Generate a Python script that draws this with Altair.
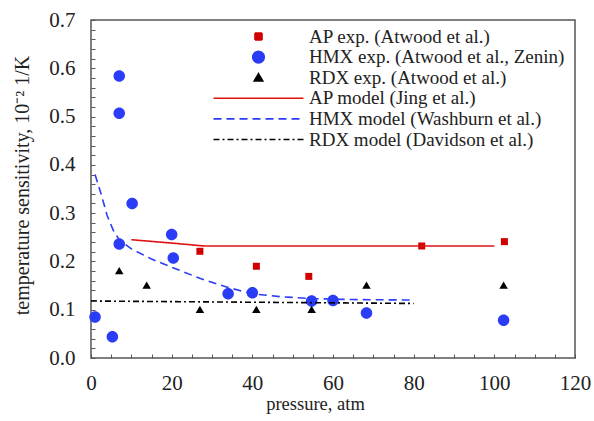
import altair as alt
import pandas as pd

# ---------------- data ----------------
series_names = [
    "AP exp. (Atwood et al.)",
    "HMX exp. (Atwood et al., Zenin)",
    "RDX exp. (Atwood et al.)",
    "AP model (Jing et al.)",
    "HMX model (Washburn et al.)",
    "RDX model (Davidson et al.)",
]

ap_exp_p = [27, 41, 54, 82, 102.5]
ap_exp_s = [0.221, 0.190, 0.169, 0.232, 0.241]

hmx_exp_p = [1, 5.3, 7, 7, 7, 10.2, 20, 20.4, 34, 40, 54.7, 60, 68.3, 102.3]
hmx_exp_s = [0.085, 0.044, 0.584, 0.507, 0.236, 0.320, 0.256, 0.207,
             0.133, 0.135, 0.118, 0.119, 0.093, 0.078]

rdx_exp_p = [7, 13.8, 27, 41, 54.7, 68.3, 102.3]
rdx_exp_s = [0.180, 0.150, 0.100, 0.100, 0.100, 0.150, 0.150]

ap_mod_p = [10, 20, 28, 100]
ap_mod_s = [0.245, 0.238, 0.232, 0.232]

hmx_mod_p = [1, 2.5, 4, 5.5, 7, 10, 15, 20, 27, 34, 40, 47, 55, 65, 80]
hmx_mod_s = [0.380, 0.340, 0.295, 0.265, 0.245, 0.226, 0.205, 0.188,
             0.165, 0.146, 0.133, 0.127, 0.123, 0.121, 0.120]

rdx_mod_p = [0, 80]
rdx_mod_s = [0.118, 0.113]

x_label_values = [0, 20, 40, 60, 80, 100, 120]
y_label_values = [0.0, 0.1, 0.2, 0.3, 0.4, 0.5, 0.6, 0.7]
x_tick_values = [0, 5, 10, 15, 20, 25, 30, 35, 40, 45, 50, 55, 60, 65, 70,
                 75, 80, 85, 90, 95, 100, 105, 110, 115, 120]
y_tick_values = [0.0, 0.02, 0.04, 0.06, 0.08, 0.1, 0.12, 0.14, 0.16, 0.18,
                 0.2, 0.22, 0.24, 0.26, 0.28, 0.3, 0.32, 0.34, 0.36, 0.38,
                 0.4, 0.42, 0.44, 0.46, 0.48, 0.5, 0.52, 0.54, 0.56, 0.58,
                 0.6, 0.62, 0.64, 0.66, 0.68, 0.7]

# ---------------- styles ----------------
series_colors = ["#d00000", "#2a3cf5", "#000000", "#e01010", "#2a3cf5", "#000000"]
series_shapes = [
    "M-0.7,-0.7H0.7V0.7H-0.7Z",
    "M-1.15,0A1.15,1.15,0,1,1,1.15,0A1.15,1.15,0,1,1,-1.15,0Z",
    "M0,-0.8L0.85,0.65H-0.85Z",
    "M-9,0H9",
    "M-9,0H9",
    "M-9,0H9",
]
series_dashes = [[1, 0], [1, 0], [1, 0], [1, 0], [8, 5], [6, 3, 2, 3]]

FONT = "'Liberation Serif', 'Times New Roman', Times, serif"
W, H = 484, 338


def long(name, xs, ys):
    return pd.DataFrame({"p": xs, "s": ys, "series": name})


df_exp = pd.concat([
    long(series_names[0], ap_exp_p, ap_exp_s),
    long(series_names[1], hmx_exp_p, hmx_exp_s),
    long(series_names[2], rdx_exp_p, rdx_exp_s),
], ignore_index=True)

df_mod = pd.concat([
    long(series_names[3], ap_mod_p, ap_mod_s),
    long(series_names[4], hmx_mod_p, hmx_mod_s),
    long(series_names[5], rdx_mod_p, rdx_mod_s),
], ignore_index=True)

xscale = alt.Scale(domain=[0, 120], nice=False, zero=False)
yscale = alt.Scale(domain=[0, 0.7], nice=False, zero=False)

xaxis = alt.Axis(values=x_label_values, ticks=False, domain=False, grid=False,
                 labelFont=FONT, labelFontSize=21, labelColor="#222",
                 labelPadding=14, labelFlush=False,
                 title="pressure, atm", titleFont=FONT, titleFontSize=18.5,
                 titleFontWeight="normal", titleColor="#222",
                 titleX=224, titleY=51, titleBaseline="alphabetic",
                 titleAlign="center")
yaxis = alt.Axis(values=y_label_values, format=".1f", ticks=False, domain=False,
                 grid=False, labelFont=FONT, labelFontSize=21, labelColor="#222",
                 labelPadding=16, labelFlush=False,
                 title="temperature sensitivity, 10\u207b\u00b2 1/K",
                 titleFont=FONT, titleFontSize=20, titleFontWeight="normal",
                 titleColor="#222", titleX=-63, titleY=165,
                 titleBaseline="alphabetic", titleAlign="center", titleAngle=270)

leg = alt.Legend(orient="none", legendX=158, legendY=7, title=None,
                 labelFont=FONT, labelFontSize=19, labelColor="#222",
                 labelOffset=41, labelLimit=400, rowPadding=0.6,
                 symbolStrokeWidth=1.6, symbolSize=100, padding=0)

pts = alt.Chart(df_exp).mark_point(filled=True, size=100, opacity=1).encode(
    x=alt.X("p:Q", scale=xscale, axis=xaxis),
    y=alt.Y("s:Q", scale=yscale, axis=yaxis),
    fill=alt.Fill("series:N", scale=alt.Scale(domain=series_names, range=series_colors), legend=leg),
    shape=alt.Shape("series:N", scale=alt.Scale(domain=series_names, range=series_shapes), legend=leg),
)

lines = alt.Chart(df_mod).mark_line(strokeWidth=1.6).encode(
    x=alt.X("p:Q", scale=xscale, axis=xaxis),
    y=alt.Y("s:Q", scale=yscale, axis=yaxis),
    stroke=alt.Stroke("series:N", scale=alt.Scale(domain=series_names, range=series_colors), legend=leg),
    strokeDash=alt.StrokeDash("series:N", scale=alt.Scale(domain=series_names, range=series_dashes), legend=leg),
)

ticks = alt.Chart(df_exp).mark_point(opacity=0).encode(
    x=alt.X("p:Q", scale=xscale,
            axis=alt.Axis(orient="top", offset=-H, values=x_tick_values, labels=False,
                          domain=False, grid=False, title=None, tickSize=4,
                          tickColor="#555", tickWidth=1)),
    y=alt.Y("s:Q", scale=yscale,
            axis=alt.Axis(orient="right", offset=-W, values=y_tick_values, labels=False,
                          domain=False, grid=False, title=None, tickSize=4,
                          tickColor="#555", tickWidth=1)),
)

chart = alt.layer(alt.layer(pts, lines), ticks).resolve_axis(
    x="independent", y="independent"
).properties(
    width=W, height=H,
    autosize=alt.AutoSizeParams(type="none"),
    padding={"left": 91, "top": 20, "right": 19, "bottom": 63},
    background="white",
).configure_view(stroke="#555", strokeWidth=1.5)

chart.save("out.html", embed_options={"renderer": "svg", "actions": False})
